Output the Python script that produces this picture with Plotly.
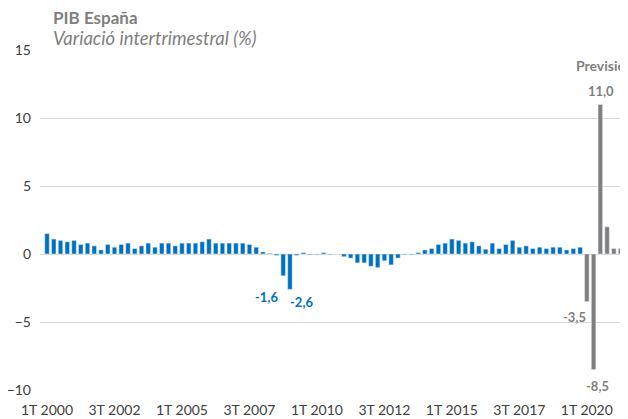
import plotly.graph_objects as go

# quarters 1T 2000 .. 4T 2021
years = list(range(2000, 2022))
quarters = [f"{q}T {y}" for y in years for q in range(1, 5)]

# variació intertrimestral (%) observed, 1T 2000 .. 4T 2019
observed = [
    1.5, 1.1, 1.0, 0.9,
    1.0, 0.7, 0.8, 0.6,
    0.3, 0.7, 0.5, 0.7,
    0.8, 0.4, 0.6, 0.8,
    0.5, 0.8, 0.8, 0.6,
    0.8, 0.8, 0.8, 0.9,
    1.1, 0.8, 0.8, 0.8,
    0.8, 0.8, 0.7, 0.5,
    0.15, 0.05, -0.1, -1.6,
    -2.6, -0.1, 0.1, -0.05,
    -0.05, 0.1, -0.05, 0.0,
    -0.2, -0.3, -0.65, -0.65,
    -0.9, -1.0, -0.5, -0.8,
    -0.3, -0.05, -0.05, 0.1,
    0.3, 0.4, 0.7, 0.8,
    1.1, 1.0, 0.8, 0.9,
    0.6, 0.35, 0.8, 0.4,
    0.7, 1.0, 0.5, 0.6,
    0.4, 0.5, 0.4, 0.5,
    0.5, 0.3, 0.4, 0.5,
]
# previsió, 1T 2020 .. 4T 2021
forecast = [-3.5, -8.5, 11.0, 2.0, 0.4, 0.4, 0.4, 0.4]

n_obs = len(observed)
blue = "#0070C0"
grey = "#7F7F7F"

fig = go.Figure()
fig.add_trace(go.Bar(x=quarters[:n_obs], y=observed, marker_color=blue))
fig.add_trace(go.Bar(x=quarters[n_obs:], y=forecast, marker_color=grey))

def fmt(v):
    return f"{v:.1f}".replace(".", ",")

# labelled points: (quarter, value, colour, x shift, y shift)
labelled = [
    ("4T 2008", observed[quarters.index("4T 2008")], blue, -17, -21),
    ("1T 2009", observed[quarters.index("1T 2009")], blue, 12, -13),
    ("1T 2020", forecast[0], grey, -12, -15),
    ("2T 2020", forecast[1], grey, 4, -16),
    ("3T 2020", forecast[2], grey, 1, 13),
]
for q, v, c, dx, dy in labelled:
    fig.add_annotation(x=q, y=v, text=f"<b>{fmt(v)}</b>", showarrow=False,
                       xshift=dx, yshift=dy, font=dict(color=c, size=13),
                       yanchor="middle")

fig.add_annotation(x="1T 2020", y=15, text="<b>Previsió</b>", showarrow=False,
                   xanchor="left", xshift=-13, yshift=-15,
                   font=dict(color=grey, size=14))

fig.add_annotation(xref="paper", yref="paper", x=0.018, y=1,
                   text="<b>PIB España</b>", showarrow=False,
                   xanchor="left", yanchor="bottom", yshift=20,
                   font=dict(color=grey, size=17))
fig.add_annotation(xref="paper", yref="paper", x=0.018, y=1,
                   text="<i>Variació intertrimestral (%)</i>", showarrow=False,
                   xanchor="left", yanchor="bottom", yshift=-1,
                   font=dict(color=grey, size=18.5))

# page body adds an 8px margin, so the figure is 8px smaller than the window
fig.update_layout(
    width=620, height=411,
    margin=dict(l=32, r=0, t=42, b=29),
    plot_bgcolor="white", paper_bgcolor="white",
    showlegend=False, bargap=0.33,
    font=dict(family="Lato, Open Sans, sans-serif", size=14, color="#404040"),
)
fig.update_xaxes(type="category", range=[-1.04, 86.1],
                 tickvals=quarters[::10], ticktext=quarters[::10],
                 showgrid=False, showline=False, ticks="",
                 ticklabelstandoff=10)
fig.update_yaxes(range=[-10, 15], tickvals=[-10, -5, 0, 5, 10, 15],
                 showgrid=True, gridcolor="#D9D9D9", zeroline=True,
                 zerolinecolor="#D9D9D9", zerolinewidth=1, ticks="",
                 ticklabelstandoff=8)

fig.write_html("out.html")
